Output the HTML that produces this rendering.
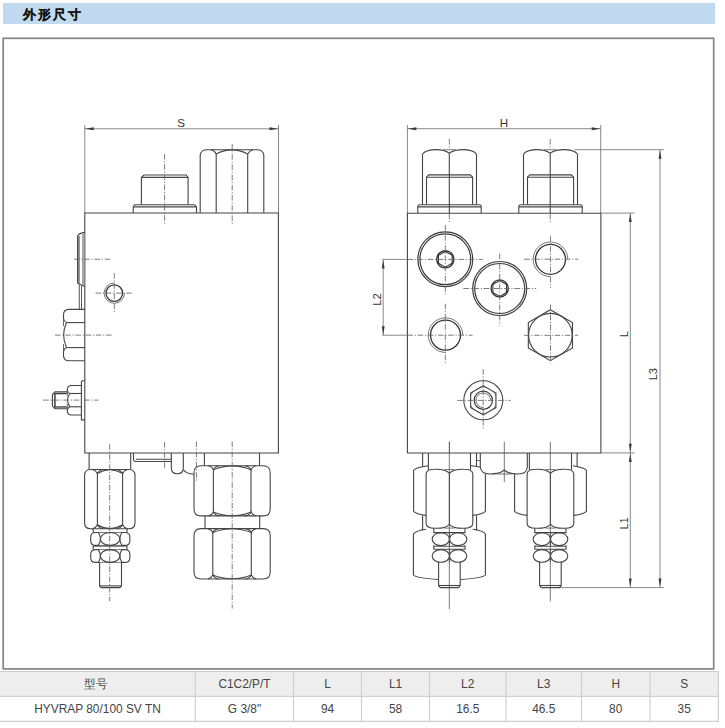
<!DOCTYPE html>
<html><head><meta charset="utf-8"><style>
html,body{margin:0;padding:0;background:#fff;width:725px;height:728px;overflow:hidden;position:relative;font-family:"Liberation Sans",sans-serif;}
.hdr{position:absolute;left:3px;top:3px;width:712px;height:20.5px;background:#c2daef;}
.hdr span{position:absolute;left:19.5px;top:3.8px;font-size:13px;font-weight:bold;color:#111;-webkit-text-stroke:0.15px #111;line-height:16px;letter-spacing:2px;}
.frame{position:absolute;left:2px;top:37px;width:713px;height:633px;box-sizing:border-box;border:2px solid #9a9a9a;}
svg{position:absolute;left:0;top:0;}
</style></head><body>
<div class="hdr"><span>外形尺寸</span></div>
<svg width="725" height="728" viewBox="0 0 725 728" font-family="Liberation Sans, sans-serif">
<rect x="3.2" y="38.3" width="710.5" height="630.6" fill="none" stroke="#858585" stroke-width="1.7"/>
<g>
<path d="M84.8,125L84.8,213" stroke="#7a7a7a" stroke-width="0.9" fill="none"/>
<path d="M278.5,125L278.5,213" stroke="#7a7a7a" stroke-width="0.9" fill="none"/>
<path d="M84.8,128.8L278.5,128.8" stroke="#7a7a7a" stroke-width="0.9" fill="none"/>
<polygon points="85.30,128.80 93.80,127.35 93.80,130.25" fill="#3a3a3a"/>
<polygon points="278.00,128.80 269.50,127.35 269.50,130.25" fill="#3a3a3a"/>
<text x="181.2" y="126.6" font-size="11.6" text-anchor="middle" fill="#333">S</text>
<path d="M84.8,213H278.4V453H84.8Z" stroke="#454545" stroke-width="1.1" fill="none"/>
<path d="M141.4,204.5V177.4L143.9,175H186.1L188.1,177.4V204.5" stroke="#454545" stroke-width="1.1" fill="none"/>
<path d="M141.4,177.4L188.1,177.4" stroke="#454545" stroke-width="1.1" fill="none"/>
<path d="M133.2,213V206.9L134.5,204.7H194.5L196.5,206.9V213" stroke="#454545" stroke-width="1.1" fill="none"/>
<path d="M133.2,206.9L196.5,206.9" stroke="#454545" stroke-width="1.1" fill="none"/>
<path d="M164.6,154L164.6,225" stroke="#666" stroke-width="0.85" fill="none" stroke-dasharray="5.6 1.7 1.2 1.7"/>
<path d="M200.2,213V155Q201,150.2 206,149.8H258Q263,150.2 263.8,155V213" stroke="#454545" stroke-width="1.1" fill="none"/>
<path d="M216.2,154L216.2,213" stroke="#454545" stroke-width="1.1" fill="none"/>
<path d="M247.7,154L247.7,213" stroke="#454545" stroke-width="1.1" fill="none"/>
<path d="M216.2,154Q232,145.8 247.7,154" stroke="#454545" stroke-width="1.1" fill="none"/>
<path d="M211,149.8Q214.5,150.6 216.2,154" stroke="#454545" stroke-width="1.1" fill="none"/>
<path d="M247.7,154Q249.5,150.6 253,149.8" stroke="#454545" stroke-width="1.1" fill="none"/>
<path d="M232.2,144L232.2,224" stroke="#666" stroke-width="0.85" fill="none" stroke-dasharray="5.6 1.7 1.2 1.7"/>
<rect x="77.6" y="236" width="2.3" height="47.5" fill="#8e8e8e"/>
<rect x="82" y="234" width="2.4" height="51" fill="#a8a8a8"/>
<path d="M85,232.4Q79,233 77.6,236.1V283.2L84.6,286.5" stroke="#454545" stroke-width="1.1" fill="none"/>
<path d="M79.3,284.2L79.3,309.5" stroke="#454545" stroke-width="0.9" fill="none"/>
<path d="M81.5,285.3L81.5,309.5" stroke="#454545" stroke-width="0.9" fill="none"/>
<path d="M74,259.2L111.5,259.2" stroke="#666" stroke-width="0.85" fill="none" stroke-dasharray="5.6 1.7 1.2 1.7"/>
<path d="M124.5,293.1A10.2,10.2 0 1 1 114.3,282.9" stroke="#555" stroke-width="0.8" fill="none"/>
<circle cx="114.3" cy="293.1" r="8.3" stroke="#333" stroke-width="1.3" fill="none"/>
<path d="M95.5,293.1L132.7,293.1" stroke="#666" stroke-width="0.85" fill="none" stroke-dasharray="5.6 1.7 1.2 1.7"/>
<path d="M114.3,273L114.3,312" stroke="#666" stroke-width="0.85" fill="none" stroke-dasharray="5.6 1.7 1.2 1.7"/>
<path d="M85,309.4H69Q63.5,309.4 63.5,315V318.5Q64,321.5 66.5,322.6" stroke="#454545" stroke-width="1.1" fill="none"/>
<path d="M66.5,322.6Q60.8,335.1 66.5,347.6" stroke="#454545" stroke-width="1.1" fill="none"/>
<path d="M66.5,347.6Q64,348.7 63.5,351.7V355.2Q63.5,360.8 69,360.8H85" stroke="#454545" stroke-width="1.1" fill="none"/>
<path d="M66.5,322.6L85,322.6" stroke="#454545" stroke-width="1.1" fill="none"/>
<path d="M66.5,347.6L85,347.6" stroke="#454545" stroke-width="1.1" fill="none"/>
<path d="M63.5,318.5V326M63.5,344V351.7" stroke="#454545" stroke-width="0.8" fill="none"/>
<path d="M55,335.1L112,335.1" stroke="#666" stroke-width="0.85" fill="none" stroke-dasharray="5.6 1.7 1.2 1.7"/>
<path d="M84.8,380.8H82.5Q81.4,380.8 81.4,382V419.9H84.8" stroke="#454545" stroke-width="1.1" fill="none"/>
<path d="M81.4,385.5H71.5Q67.3,385.5 67.3,390Q67.5,392.5 69.8,393.5" stroke="#454545" stroke-width="1.1" fill="none"/>
<path d="M69.8,393.5Q65.3,400.1 69.8,406.8" stroke="#454545" stroke-width="1.1" fill="none"/>
<path d="M69.8,406.8Q67.5,407.7 67.3,410.5Q67.3,415 71.5,415H81.4" stroke="#454545" stroke-width="1.1" fill="none"/>
<path d="M69.8,393.5L81.4,393.5" stroke="#454545" stroke-width="1.1" fill="none"/>
<path d="M69.8,406.8L81.4,406.8" stroke="#454545" stroke-width="1.1" fill="none"/>
<path d="M67.3,390V396M67.3,404V410.5" stroke="#454545" stroke-width="0.7" fill="none"/>
<path d="M67.3,391.9H55L52.4,394.5V406.1L55,408.7H67.3" stroke="#454545" stroke-width="1.1" fill="none"/>
<path d="M54.9,393L54.9,407.6" stroke="#3a3a3a" stroke-width="1.5" fill="none"/>
<path d="M54.9,393.6L67.3,393.6" stroke="#454545" stroke-width="1.4" fill="none"/>
<path d="M54.9,407L67.3,407" stroke="#454545" stroke-width="1.4" fill="none"/>
<path d="M43,400.1L98.5,400.1" stroke="#666" stroke-width="0.85" fill="none" stroke-dasharray="5.6 1.7 1.2 1.7"/>
<path d="M89.1,453L89.1,469.5" stroke="#454545" stroke-width="1.1" fill="none"/>
<path d="M130.7,453L130.7,469.5" stroke="#454545" stroke-width="1.1" fill="none"/>
<path d="M84.6,475.5Q84.6,469.5 90.6,469.5H129Q135,469.5 135,475.5V522.8Q135,528.8 129,528.8H90.6Q84.6,528.8 84.6,522.8Z" stroke="#454545" stroke-width="1.1" fill="none"/>
<path d="M97.4,473.5L97.4,524.8" stroke="#454545" stroke-width="1.1" fill="none"/>
<path d="M122.6,473.5L122.6,524.8" stroke="#454545" stroke-width="1.1" fill="none"/>
<path d="M97.4,473.5Q110.0,465.9 122.6,473.5" stroke="#454545" stroke-width="1.1" fill="none"/>
<path d="M92.4,469.5Q95.9,470.3 97.4,473.5Q98.9,470.3 103.4,469.5" stroke="#454545" stroke-width="1.1" fill="none"/>
<path d="M116.6,469.5Q121.1,470.3 122.6,473.5Q124.1,470.3 127.6,469.5" stroke="#454545" stroke-width="1.1" fill="none"/>
<path d="M97.4,524.8Q110.0,532.4 122.6,524.8" stroke="#454545" stroke-width="1.1" fill="none"/>
<path d="M92.4,528.8Q95.9,528.0 97.4,524.8Q98.9,528.0 103.4,528.8" stroke="#454545" stroke-width="1.1" fill="none"/>
<path d="M116.6,528.8Q121.1,528.0 122.6,524.8Q124.1,528.0 127.6,528.8" stroke="#454545" stroke-width="1.1" fill="none"/>
<path d="M93.2,528.4V532.5M127,528.4V532.5" stroke="#454545" stroke-width="1.1" fill="none"/>
<path d="M95.7,532.5H98.4Q102.4,538.95 98.4,545.4H95.7Q90.7,545.4 90.7,540.4V537.5Q90.7,532.5 95.7,532.5Z" stroke="#454545" stroke-width="1.1" fill="none"/>
<path d="M124.9,532.5H121.9Q117.9,538.95 121.9,545.4H124.9Q129.9,545.4 129.9,540.4V537.5Q129.9,532.5 124.9,532.5Z" stroke="#454545" stroke-width="1.1" fill="none"/>
<ellipse cx="110.15" cy="538.95" rx="9.75" ry="6.449999999999989" stroke="#454545" stroke-width="1.1" fill="none"/>
<path d="M98.4,532.5H121.9M98.4,545.4H121.9" stroke="#454545" stroke-width="0.7" fill="none"/>
<path d="M93.2,545.4V549.6M127,545.4V549.6" stroke="#454545" stroke-width="1.1" fill="none"/>
<path d="M93.2,546.2L127,546.2" stroke="#454545" stroke-width="0.9" fill="none"/>
<path d="M95.7,549.6H98.4Q102.4,556.0 98.4,562.4H95.7Q90.7,562.4 90.7,557.4V554.6Q90.7,549.6 95.7,549.6Z" stroke="#454545" stroke-width="1.1" fill="none"/>
<path d="M124.9,549.6H121.9Q117.9,556.0 121.9,562.4H124.9Q129.9,562.4 129.9,557.4V554.6Q129.9,549.6 124.9,549.6Z" stroke="#454545" stroke-width="1.1" fill="none"/>
<ellipse cx="110.15" cy="556.0" rx="9.75" ry="6.399999999999977" stroke="#454545" stroke-width="1.1" fill="none"/>
<path d="M98.4,549.6H121.9M98.4,562.4H121.9" stroke="#454545" stroke-width="0.7" fill="none"/>
<path d="M99.6,562.3V585.9L101.3,587.6H119.8L121.5,585.9V562.3" stroke="#454545" stroke-width="1.1" fill="none"/>
<path d="M99.6,585.9L121.5,585.9" stroke="#454545" stroke-width="1.1" fill="none"/>
<path d="M109.7,444L109.7,601" stroke="#666" stroke-width="0.85" fill="none" stroke-dasharray="5.6 1.7 1.2 1.7"/>
<path d="M133.5,453V459Q133.5,461.5 136,461.5H171" stroke="#454545" stroke-width="1.1" fill="none"/>
<path d="M136,459.2L171,459.2" stroke="#454545" stroke-width="1.1" fill="none"/>
<path d="M164.6,442L164.6,469" stroke="#666" stroke-width="0.85" fill="none" stroke-dasharray="5.6 1.7 1.2 1.7"/>
<path d="M171.3,453V467.8Q171.3,473.8 177.3,473.8Q183.3,473.8 183.3,467.8V453" stroke="#454545" stroke-width="1.1" fill="none"/>
<path d="M183.3,469.5Q186,474 194,474.2" stroke="#454545" stroke-width="1.1" fill="none"/>
<path d="M196.4,441.5L196.4,481" stroke="#666" stroke-width="0.85" fill="none" stroke-dasharray="5.6 1.7 1.2 1.7"/>
<path d="M204.4,453L204.4,465.7" stroke="#454545" stroke-width="1.1" fill="none"/>
<path d="M259.5,453L259.5,465.7" stroke="#454545" stroke-width="1.1" fill="none"/>
<path d="M194,472.7Q194,465.7 201,465.7H263.2Q270.2,465.7 270.2,472.7V508.9Q270.2,515.9 263.2,515.9H201Q194,515.9 194,508.9Z" stroke="#454545" stroke-width="1.1" fill="none"/>
<path d="M213.4,469.7L213.4,511.9" stroke="#454545" stroke-width="1.1" fill="none"/>
<path d="M251,469.7L251,511.9" stroke="#454545" stroke-width="1.1" fill="none"/>
<path d="M213.4,469.7Q232.2,462.09999999999997 251,469.7" stroke="#454545" stroke-width="1.1" fill="none"/>
<path d="M208.4,465.7Q211.9,466.5 213.4,469.7Q214.9,466.5 219.4,465.7" stroke="#454545" stroke-width="1.1" fill="none"/>
<path d="M245,465.7Q249.5,466.5 251,469.7Q252.5,466.5 256,465.7" stroke="#454545" stroke-width="1.1" fill="none"/>
<path d="M213.4,511.9Q232.2,519.5 251,511.9" stroke="#454545" stroke-width="1.1" fill="none"/>
<path d="M208.4,515.9Q211.9,515.1 213.4,511.9Q214.9,515.1 219.4,515.9" stroke="#454545" stroke-width="1.1" fill="none"/>
<path d="M245,515.9Q249.5,515.1 251,511.9Q252.5,515.1 256,515.9" stroke="#454545" stroke-width="1.1" fill="none"/>
<path d="M205,515.9L205,528.6" stroke="#454545" stroke-width="1.1" fill="none"/>
<path d="M259.7,515.9L259.7,528.6" stroke="#454545" stroke-width="1.1" fill="none"/>
<path d="M194,535.6Q194,528.6 201,528.6H263.2Q270.2,528.6 270.2,535.6V572Q270.2,579 263.2,579H201Q194,579 194,572Z" stroke="#454545" stroke-width="1.1" fill="none"/>
<path d="M212.8,532.6L212.8,575" stroke="#454545" stroke-width="1.1" fill="none"/>
<path d="M251.3,532.6L251.3,575" stroke="#454545" stroke-width="1.1" fill="none"/>
<path d="M212.8,532.6Q232.05,525.0 251.3,532.6" stroke="#454545" stroke-width="1.1" fill="none"/>
<path d="M207.8,528.6Q211.3,529.4 212.8,532.6Q214.3,529.4 218.8,528.6" stroke="#454545" stroke-width="1.1" fill="none"/>
<path d="M245.3,528.6Q249.8,529.4 251.3,532.6Q252.8,529.4 256.3,528.6" stroke="#454545" stroke-width="1.1" fill="none"/>
<path d="M212.8,575Q232.05,582.6 251.3,575" stroke="#454545" stroke-width="1.1" fill="none"/>
<path d="M207.8,579Q211.3,578.2 212.8,575Q214.3,578.2 218.8,579" stroke="#454545" stroke-width="1.1" fill="none"/>
<path d="M245.3,579Q249.8,578.2 251.3,575Q252.8,578.2 256.3,579" stroke="#454545" stroke-width="1.1" fill="none"/>
<path d="M232.2,441.5L232.2,608.6" stroke="#666" stroke-width="0.85" fill="none" stroke-dasharray="5.6 1.7 1.2 1.7"/>
<path d="M407.4,125L407.4,213" stroke="#7a7a7a" stroke-width="0.9" fill="none"/>
<path d="M600.7,125L600.7,213" stroke="#7a7a7a" stroke-width="0.9" fill="none"/>
<path d="M407.4,128.7L600.7,128.7" stroke="#7a7a7a" stroke-width="0.9" fill="none"/>
<polygon points="407.90,128.70 416.40,127.25 416.40,130.15" fill="#3a3a3a"/>
<polygon points="600.20,128.70 591.70,127.25 591.70,130.15" fill="#3a3a3a"/>
<text x="504" y="126.8" font-size="11.6" text-anchor="middle" fill="#333">H</text>
<path d="M407.4,213.3H600.9V453H407.4Z" stroke="#454545" stroke-width="1.1" fill="none"/>
<path d="M422.5,204.8V154.2Q425.5,150 434.5,149.6Q444.3,149.4 449.3,153.1Q454.3,149.4 464.5,149.6Q473.5,150 476.5,154.2V204.8" stroke="#454545" stroke-width="1.1" fill="none"/>
<path d="M442.8,149.7H455.8" stroke="#454545" stroke-width="0.7" fill="none"/>
<path d="M449.3,153.1L449.3,213.3" stroke="#454545" stroke-width="1.1" fill="none"/>
<path d="M426.5,204.8V177.2L428.7,174.9H470.40000000000003L472.6,177.2V204.8" stroke="#454545" stroke-width="1.1" fill="none"/>
<path d="M426.5,177.2L472.6,177.2" stroke="#454545" stroke-width="1.1" fill="none"/>
<path d="M417.8,213.3V206.6Q417.8,204.8 419.6,204.8H479.4Q481.2,204.8 481.2,206.6V213.3" stroke="#454545" stroke-width="1.1" fill="none"/>
<path d="M417.8,206.9L481.2,206.9" stroke="#454545" stroke-width="1.1" fill="none"/>
<path d="M449.3,139L449.3,149.5" stroke="#666" stroke-width="0.85" fill="none" stroke-dasharray="5.6 1.7 1.2 1.7"/>
<path d="M449.3,213.5L449.3,223" stroke="#666" stroke-width="0.85" fill="none" stroke-dasharray="5.6 1.7 1.2 1.7"/>
<path d="M523.5,204.8V154.2Q526.5,150 535.5,149.6Q545.2,149.4 550.2,153.1Q555.2,149.4 565.5,149.6Q574.5,150 577.5,154.2V204.8" stroke="#454545" stroke-width="1.1" fill="none"/>
<path d="M543.7,149.7H556.7" stroke="#454545" stroke-width="0.7" fill="none"/>
<path d="M550.2,153.1L550.2,213.3" stroke="#454545" stroke-width="1.1" fill="none"/>
<path d="M527.5,204.8V177.2L529.7,174.9H571.4L573.6,177.2V204.8" stroke="#454545" stroke-width="1.1" fill="none"/>
<path d="M527.5,177.2L573.6,177.2" stroke="#454545" stroke-width="1.1" fill="none"/>
<path d="M518.8,213.3V206.6Q518.8,204.8 520.5999999999999,204.8H580.4000000000001Q582.2,204.8 582.2,206.6V213.3" stroke="#454545" stroke-width="1.1" fill="none"/>
<path d="M518.8,206.9L582.2,206.9" stroke="#454545" stroke-width="1.1" fill="none"/>
<path d="M550.2,139L550.2,149.5" stroke="#666" stroke-width="0.85" fill="none" stroke-dasharray="5.6 1.7 1.2 1.7"/>
<path d="M550.2,213.5L550.2,223" stroke="#666" stroke-width="0.85" fill="none" stroke-dasharray="5.6 1.7 1.2 1.7"/>
<path d="M574.5,149.7L663.8,149.7" stroke="#7a7a7a" stroke-width="0.9" fill="none"/>
<path d="M600.9,213.1L634.6,213.1" stroke="#7a7a7a" stroke-width="0.9" fill="none"/>
<path d="M660,149.7L660,587.6" stroke="#7a7a7a" stroke-width="0.9" fill="none"/>
<polygon points="660.00,150.20 658.55,158.70 661.45,158.70" fill="#3a3a3a"/>
<polygon points="660.00,587.10 658.55,578.60 661.45,578.60" fill="#3a3a3a"/>
<path d="M630.3,213.1L630.3,587.6" stroke="#7a7a7a" stroke-width="0.9" fill="none"/>
<polygon points="630.30,213.60 628.85,222.10 631.75,222.10" fill="#3a3a3a"/>
<polygon points="630.30,452.30 628.85,443.80 631.75,443.80" fill="#3a3a3a"/>
<polygon points="630.30,453.50 628.85,462.00 631.75,462.00" fill="#3a3a3a"/>
<polygon points="630.30,587.10 628.85,578.60 631.75,578.60" fill="#3a3a3a"/>
<path d="M600.9,452.9L634.6,452.9" stroke="#7a7a7a" stroke-width="0.9" fill="none"/>
<path d="M559.4,587.6L663.8,587.6" stroke="#7a7a7a" stroke-width="0.9" fill="none"/>
<text x="627.6" y="334.2" font-size="11" text-anchor="middle" fill="#333" transform="rotate(-90 627.6 334.2)">L</text>
<text x="657.2" y="374.2" font-size="11" text-anchor="middle" fill="#333" transform="rotate(-90 657.2 374.2)">L3</text>
<text x="628" y="523.2" font-size="10.7" text-anchor="middle" fill="#333" transform="rotate(-90 628 523.2)">L1</text>
<path d="M382.4,259.4L407.4,259.4" stroke="#7a7a7a" stroke-width="0.9" fill="none"/>
<path d="M382.4,335.2L407.4,335.2" stroke="#7a7a7a" stroke-width="0.9" fill="none"/>
<path d="M383.2,259.4L383.2,335.2" stroke="#7a7a7a" stroke-width="0.9" fill="none"/>
<polygon points="383.20,259.90 381.75,268.40 384.65,268.40" fill="#3a3a3a"/>
<polygon points="383.20,334.70 381.75,326.20 384.65,326.20" fill="#3a3a3a"/>
<text x="381" y="299.5" font-size="11.2" text-anchor="middle" fill="#333" transform="rotate(-90 381 299.5)">L2</text>
<circle cx="445.3" cy="259.3" r="27.4" stroke="#3a3a3a" stroke-width="1.2" fill="none"/>
<circle cx="445.3" cy="259.3" r="25.4" stroke="#3a3a3a" stroke-width="1.2" fill="none"/>
<circle cx="445.3" cy="259.3" r="8.6" stroke="#333" stroke-width="1.4" fill="none"/>
<path d="M445.30,251.40L452.14,255.35L452.14,263.25L445.30,267.20L438.46,263.25L438.46,255.35Z" stroke="#333" stroke-width="1.1" fill="none"/>
<path d="M407.4,259.4L482.8,259.4" stroke="#666" stroke-width="0.85" fill="none" stroke-dasharray="5.6 1.7 1.2 1.7"/>
<path d="M445.3,225L445.3,294.6" stroke="#666" stroke-width="0.85" fill="none" stroke-dasharray="5.6 1.7 1.2 1.7"/>
<circle cx="499.7" cy="288.5" r="27.0" stroke="#3a3a3a" stroke-width="1.2" fill="none"/>
<circle cx="499.7" cy="288.5" r="25.0" stroke="#3a3a3a" stroke-width="1.2" fill="none"/>
<circle cx="499.7" cy="288.5" r="8.6" stroke="#333" stroke-width="1.4" fill="none"/>
<path d="M499.70,280.60L506.54,284.55L506.54,292.45L499.70,296.40L492.86,292.45L492.86,284.55Z" stroke="#333" stroke-width="1.1" fill="none"/>
<path d="M463.3,288.5L536.2,288.5" stroke="#666" stroke-width="0.85" fill="none" stroke-dasharray="5.6 1.7 1.2 1.7"/>
<path d="M499.7,253.6L499.7,325.4" stroke="#666" stroke-width="0.85" fill="none" stroke-dasharray="5.6 1.7 1.2 1.7"/>
<path d="M567.8,259.3A17.3,17.3 0 1 0 550.5,276.6" stroke="#555" stroke-width="0.8" fill="none"/>
<circle cx="550.5" cy="259.3" r="15.0" stroke="#333" stroke-width="1.3" fill="none"/>
<path d="M524,259.2L578.1,259.2" stroke="#666" stroke-width="0.85" fill="none" stroke-dasharray="5.6 1.7 1.2 1.7"/>
<path d="M550.5,236L550.5,287.8" stroke="#666" stroke-width="0.85" fill="none" stroke-dasharray="5.6 1.7 1.2 1.7"/>
<path d="M550.40,309.70L572.48,322.45L572.48,347.95L550.40,360.70L528.32,347.95L528.32,322.45Z" stroke="#454545" stroke-width="1.1" fill="none"/>
<circle cx="550.4" cy="335.2" r="21.8" stroke="#454545" stroke-width="1.1" fill="none"/>
<path d="M524,335.3L578.1,335.3" stroke="#666" stroke-width="0.85" fill="none" stroke-dasharray="5.6 1.7 1.2 1.7"/>
<path d="M550.5,304.4L550.5,363.3" stroke="#666" stroke-width="0.85" fill="none" stroke-dasharray="5.6 1.7 1.2 1.7"/>
<path d="M462.8,335.1A17.3,17.3 0 1 0 445.5,352.4" stroke="#555" stroke-width="0.8" fill="none"/>
<circle cx="445.5" cy="335.1" r="15.0" stroke="#333" stroke-width="1.3" fill="none"/>
<path d="M407.4,335.2L472.6,335.2" stroke="#666" stroke-width="0.85" fill="none" stroke-dasharray="5.6 1.7 1.2 1.7"/>
<path d="M445.3,303.7L445.3,363.2" stroke="#666" stroke-width="0.85" fill="none" stroke-dasharray="5.6 1.7 1.2 1.7"/>
<circle cx="483.3" cy="400.3" r="19.5" stroke="#454545" stroke-width="1.1" fill="none"/>
<path d="M483.30,385.70L495.94,393.00L495.94,407.60L483.30,414.90L470.66,407.60L470.66,393.00Z" stroke="#454545" stroke-width="1.1" fill="none"/>
<clipPath id="hx"><path d="M483.30,385.70L495.94,393.00L495.94,407.60L483.30,414.90L470.66,407.60L470.66,393.00Z"/></clipPath>
<circle cx="483.3" cy="400.3" r="13.6" stroke="#454545" stroke-width="0.7" fill="none" clip-path="url(#hx)"/>
<circle cx="483.3" cy="400.3" r="9.1" stroke="#3a3a3a" stroke-width="1.2" fill="none"/>
<path d="M490.6,400.3A7.3,7.3 0 1 0 483.3,407.6" stroke="#555" stroke-width="0.8" fill="none"/>
<path d="M457.3,400.4L510.7,400.4" stroke="#666" stroke-width="0.85" fill="none" stroke-dasharray="5.6 1.7 1.2 1.7"/>
<path d="M483.2,369L483.2,428.6" stroke="#666" stroke-width="0.85" fill="none" stroke-dasharray="5.6 1.7 1.2 1.7"/>
<path d="M422.6,453L422.6,467" stroke="#454545" stroke-width="1.1" fill="none"/>
<path d="M428.4,453L428.4,470" stroke="#454545" stroke-width="1.1" fill="none"/>
<path d="M470.5,453L470.5,470" stroke="#454545" stroke-width="1.1" fill="none"/>
<path d="M476.5,453L476.5,467" stroke="#454545" stroke-width="1.1" fill="none"/>
<path d="M428,465.8Q416,467.5 413.6,470.4V511.3Q416,514 426.1,515.4" stroke="#454545" stroke-width="1.1" fill="none"/>
<path d="M470.8,465.8Q476,466.2 480.3,467.2" stroke="#454545" stroke-width="1.1" fill="none"/>
<path d="M485.4,474V511.3Q483,514 472.8,515.4" stroke="#454545" stroke-width="1.1" fill="none"/>
<path d="M426.1,474.3Q426.1,469.3 435.1,469.3Q445.45000000000005,469.0 449.45000000000005,473.3Q453.45000000000005,469.0 463.8,469.3Q472.8,469.3 472.8,474.3V523.3Q472.8,528.3 463.8,528.3Q453.45000000000005,528.5999999999999 449.45000000000005,524.3Q445.45000000000005,528.5999999999999 435.1,528.3Q426.1,528.3 426.1,523.3Z" stroke="#454545" stroke-width="1.1" fill="none"/>
<path d="M449.45000000000005,473.3L449.45000000000005,524.3" stroke="#454545" stroke-width="1.1" fill="none"/>
<path d="M444.45000000000005,469.5H454.45000000000005M444.45000000000005,528.0999999999999H454.45000000000005" stroke="#454545" stroke-width="0.7" fill="none"/>
<path d="M422.6,515.5L422.6,530.5" stroke="#454545" stroke-width="1.1" fill="none"/>
<path d="M476.5,515.5L476.5,530.5" stroke="#454545" stroke-width="1.1" fill="none"/>
<path d="M426.1,529.2Q416,530.5 413.4,534V575Q416,578 438.3,579.5" stroke="#454545" stroke-width="1.1" fill="none"/>
<path d="M472.8,529.2Q483,530.5 485.4,534V575Q483,578 460.6,579.5" stroke="#454545" stroke-width="1.1" fill="none"/>
<path d="M433.8,528.3V532.6H465.0V528.3" stroke="#454545" stroke-width="1.1" fill="none"/>
<ellipse cx="440.85" cy="539.2" rx="8.650000000000006" ry="6.400000000000034" stroke="#454545" stroke-width="1.1" fill="none"/>
<ellipse cx="458.15" cy="539.2" rx="8.650000000000006" ry="6.400000000000034" stroke="#454545" stroke-width="1.1" fill="none"/>
<path d="M449.5,532.8L449.5,545.6" stroke="#454545" stroke-width="1.1" fill="none"/>
<path d="M433.8,545.3V549.6M465.0,545.3V549.6M433.8,546.2H465.0M433.8,549.2H465.0" stroke="#454545" stroke-width="1.1" fill="none"/>
<ellipse cx="440.85" cy="555.95" rx="8.650000000000006" ry="6.349999999999966" stroke="#454545" stroke-width="1.1" fill="none"/>
<ellipse cx="458.15" cy="555.95" rx="8.650000000000006" ry="6.349999999999966" stroke="#454545" stroke-width="1.1" fill="none"/>
<path d="M449.5,549.6L449.5,562.3" stroke="#454545" stroke-width="1.1" fill="none"/>
<path d="M438.6,562V585.5L440.3,587.6H458.5L460.2,585.5V562" stroke="#454545" stroke-width="1.1" fill="none"/>
<path d="M438.6,585.5L460.2,585.5" stroke="#454545" stroke-width="1.1" fill="none"/>
<path d="M449.3,441.8L449.3,609" stroke="#555" stroke-width="0.8" fill="none"/>
<path d="M529.3999999999999,453L529.3999999999999,470" stroke="#454545" stroke-width="1.1" fill="none"/>
<path d="M571.5,453L571.5,470" stroke="#454545" stroke-width="1.1" fill="none"/>
<path d="M577.1,453L577.1,467" stroke="#454545" stroke-width="1.1" fill="none"/>
<path d="M572.8,465.8Q584,467.5 586.4,470.4V511.3Q584,514 573.6,515.4" stroke="#454545" stroke-width="1.1" fill="none"/>
<path d="M527.0999999999999,474.3Q527.0999999999999,469.3 536.0999999999999,469.3Q546.4499999999999,469.0 550.4499999999999,473.3Q554.4499999999999,469.0 564.8,469.3Q573.8,469.3 573.8,474.3V523.3Q573.8,528.3 564.8,528.3Q554.4499999999999,528.5999999999999 550.4499999999999,524.3Q546.4499999999999,528.5999999999999 536.0999999999999,528.3Q527.0999999999999,528.3 527.0999999999999,523.3Z" stroke="#454545" stroke-width="1.1" fill="none"/>
<path d="M550.4499999999999,473.3L550.4499999999999,524.3" stroke="#454545" stroke-width="1.1" fill="none"/>
<path d="M545.4499999999999,469.5H555.4499999999999M545.4499999999999,528.0999999999999H555.4499999999999" stroke="#454545" stroke-width="0.7" fill="none"/>
<path d="M534.8,528.3V532.6H566.0V528.3" stroke="#454545" stroke-width="1.1" fill="none"/>
<ellipse cx="541.8499999999999" cy="539.2" rx="8.650000000000034" ry="6.400000000000034" stroke="#454545" stroke-width="1.1" fill="none"/>
<ellipse cx="559.1500000000001" cy="539.2" rx="8.650000000000034" ry="6.400000000000034" stroke="#454545" stroke-width="1.1" fill="none"/>
<path d="M550.5,532.8L550.5,545.6" stroke="#454545" stroke-width="1.1" fill="none"/>
<path d="M534.8,545.3V549.6M566.0,545.3V549.6M534.8,546.2H566.0M534.8,549.2H566.0" stroke="#454545" stroke-width="1.1" fill="none"/>
<ellipse cx="541.8499999999999" cy="555.95" rx="8.650000000000034" ry="6.349999999999966" stroke="#454545" stroke-width="1.1" fill="none"/>
<ellipse cx="559.1500000000001" cy="555.95" rx="8.650000000000034" ry="6.349999999999966" stroke="#454545" stroke-width="1.1" fill="none"/>
<path d="M550.5,549.6L550.5,562.3" stroke="#454545" stroke-width="1.1" fill="none"/>
<path d="M539.5999999999999,562V585.5L541.3,587.6H559.5L561.1999999999999,585.5V562" stroke="#454545" stroke-width="1.1" fill="none"/>
<path d="M539.5999999999999,585.5L561.1999999999999,585.5" stroke="#454545" stroke-width="1.1" fill="none"/>
<path d="M550.3,441.8L550.3,601.4" stroke="#555" stroke-width="0.8" fill="none"/>
<path d="M514.6,474V511.3Q517,514 527.3,515.4" stroke="#454545" stroke-width="1.1" fill="none"/>
<path d="M480.3,453V467Q481,474 490,474Q500,474 504.3,470Q508.6,474 518,474Q527,474 527.3,467V453" stroke="#454545" stroke-width="1.1" fill="none"/>
<path d="M497,474H511.6" stroke="#454545" stroke-width="0.8" fill="none"/>
<path d="M476.6,460.5L480.3,460.5" stroke="#454545" stroke-width="0.8" fill="none"/>
<path d="M504.3,441.8L504.3,482.2" stroke="#555" stroke-width="0.8" fill="none"/>
<path d="M449.5,441.8L449.5,453" stroke="#555" stroke-width="0.8" fill="none"/>
</g>
<g>
<rect x="0" y="671" width="718.5" height="25" fill="#eeeeee"/>
<path d="M0,671.5H718.5M0,696.3H718.5M0,721.3H718.5M195.3,671V721.8M293.5,671V721.8M361.5,671V721.8M429.5,671V721.8M506,671V721.8M581.5,671V721.8M650,671V721.8M718.4,671V721.8" stroke="#cfcfcf" stroke-width="1.2" fill="none"/>
<g font-size="12.4" fill="#444" text-anchor="middle">
<text transform="translate(96.0,0) scale(0.96,1)" x="0" y="688">型号</text>
<text transform="translate(244.5,0) scale(0.96,1)" x="0" y="687.7">C1C2/P/T</text>
<text transform="translate(327.5,0) scale(0.96,1)" x="0" y="687.7">L</text>
<text transform="translate(395.5,0) scale(0.96,1)" x="0" y="687.7">L1</text>
<text transform="translate(467.7,0) scale(0.96,1)" x="0" y="687.7">L2</text>
<text transform="translate(543.7,0) scale(0.96,1)" x="0" y="687.7">L3</text>
<text transform="translate(615.7,0) scale(0.96,1)" x="0" y="687.7">H</text>
<text transform="translate(684.2,0) scale(0.96,1)" x="0" y="687.7">S</text>
<text transform="translate(97.5,0) scale(0.96,1)" x="0" y="713">HYVRAP 80/100 SV TN</text>
<text transform="translate(244.5,0) scale(0.96,1)" x="0" y="713">G 3/8"</text>
<text transform="translate(327.5,0) scale(0.96,1)" x="0" y="713">94</text>
<text transform="translate(395.5,0) scale(0.96,1)" x="0" y="713">58</text>
<text transform="translate(467.7,0) scale(0.96,1)" x="0" y="713">16.5</text>
<text transform="translate(543.7,0) scale(0.96,1)" x="0" y="713">46.5</text>
<text transform="translate(615.7,0) scale(0.96,1)" x="0" y="713">80</text>
<text transform="translate(684.2,0) scale(0.96,1)" x="0" y="713">35</text>
</g>
</g>
</svg>
</body></html>
